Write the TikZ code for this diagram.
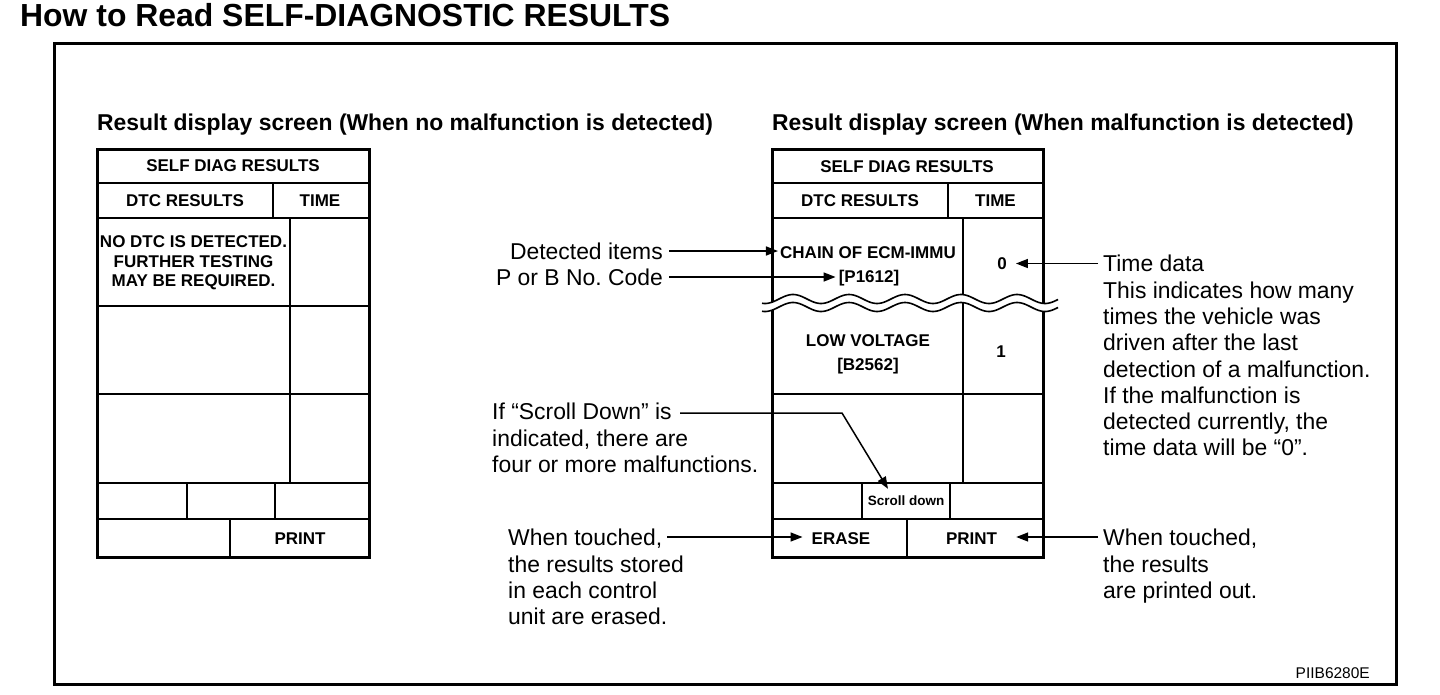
\documentclass[tikz,border=0pt]{standalone}
\usepackage{fontspec}
\setmainfont{Liberation Sans}
\usetikzlibrary{arrows.meta,positioning,calc}

\newcommand\titlefont{\fontsize{31.9}{36}\selectfont\bfseries}
\newcommand\headfont{\fontsize{22.9}{26}\selectfont\bfseries}
\newcommand\cellfont{\fontsize{17}{19.4}\selectfont\bfseries}
\newcommand\smallcellfont{\fontsize{13.5}{16}\selectfont\bfseries}
\newcommand\notefont{\fontsize{22.9}{26.3}\selectfont}
\newcommand\codefont{\fontsize{15.5}{18}\selectfont}

\tikzset{
    frameline/.style={
        line width=3pt,
    },
    tableborder/.style={
        line width=3pt,
    },
    gridline/.style={
        line width=2pt,
    },
    waveline/.style={
        line width=1.6pt,
    },
    celltext/.style={
        font=\cellfont,
        inner sep=0pt,
    },
    notetext/.style={
        font=\notefont,
        inner sep=0pt,
        align=left,
    },
    pointer/.style={
        -{Triangle[length=12pt,width=9pt]},
        line width=1.5pt,
    },
}

\begin{document}
\begin{tikzpicture}[x=1pt,y=-1pt]
    \useasboundingbox (0,0) rectangle (1440,694);

    \node[anchor=base west, font=\titlefont, inner sep=0pt] (title) at (20,26) {How to Read SELF-DIAGNOSTIC RESULTS};
    \draw[frameline] (54.5,43.5) rectangle (1396.5,684);

    \node[anchor=base west, font=\headfont, inner sep=0pt] (headok) at (97,130) {Result display screen (When no malfunction is detected)};
    \node[anchor=base west, font=\headfont, inner sep=0pt] (headfault) at (772,130) {Result display screen (When malfunction is detected)};

    % screen without malfunction
    \draw[gridline] (97,183) -- (369,183);
    \draw[gridline] (97,218) -- (369,218);
    \draw[gridline] (273,183) -- (273,218);
    \draw[gridline] (290,218) -- (290,483);
    \draw[gridline] (97,306) -- (369,306);
    \draw[gridline] (97,394) -- (369,394);
    \draw[gridline] (97,483) -- (369,483);
    \draw[gridline] (97,519) -- (369,519);
    \draw[gridline] (187,483) -- (187,519);
    \draw[gridline] (275,483) -- (275,519);
    \draw[gridline] (230,519) -- (230,557);
    \draw[tableborder] (97,149) rectangle (369,557);

    \node[celltext] (okhead) at (233,166) {SELF DIAG RESULTS};
    \node[celltext] (okdtc) at (185,201) {DTC RESULTS};
    \node[celltext] (oktime) at (320,201) {TIME};
    \node[celltext, align=center] (nodtc) at (193.5,263) {NO DTC IS DETECTED.\\FURTHER TESTING\\MAY BE REQUIRED.};
    \node[celltext] (okprint) at (300,538.5) {PRINT};

    % screen with malfunction
    \draw[gridline] (772,183) -- (1043,183);
    \draw[gridline] (772,218) -- (1043,218);
    \draw[gridline] (948,183) -- (948,218);
    \draw[gridline] (963,218) -- (963,483);
    \draw[gridline] (772,394) -- (1043,394);
    \draw[gridline] (772,483) -- (1043,483);
    \draw[gridline] (772,519) -- (1043,519);
    \draw[gridline] (862,483) -- (862,519);
    \draw[gridline] (950,483) -- (950,519);
    \draw[gridline] (907,519) -- (907,557);
    \draw[tableborder] (772,149) rectangle (1043,557);

    \fill[white] plot[domain=762:1058, samples=150] (\x,{299-4.5*cos((\x-793)/56*360)})
        -- plot[domain=1058:762, samples=150] (\x,{307-4.5*cos((\x-793)/56*360)}) -- cycle;
    \draw[waveline] plot[domain=762:1058, samples=150] (\x,{299-4.5*cos((\x-793)/56*360)});
    \draw[waveline] plot[domain=762:1058, samples=150] (\x,{307-4.5*cos((\x-793)/56*360)});

    \node[celltext] (faulthead) at (907,166.5) {SELF DIAG RESULTS};
    \node[celltext] (faultdtc) at (860,201) {DTC RESULTS};
    \node[celltext] (faulttime) at (995.5,201) {TIME};
    \node[celltext] (chain) at (868,253) {CHAIN OF ECM-IMMU};
    \node[celltext] (pcodeval) at (869,278) {[P1612]};
    \node[celltext] (zero) at (1002,264) {0};
    \node[celltext] (lowvolt) at (868,341) {LOW VOLTAGE};
    \node[celltext] (bcodeval) at (868,366.5) {[B2562]};
    \node[celltext] (one) at (1001,352) {1};
    \node[celltext, font=\smallcellfont] (scrolldown) at (906,501) {Scroll down};
    \node[celltext] (erase) at (841,538.5) {ERASE};
    \node[celltext] (faultprint) at (971.5,538.5) {PRINT};

    % notes
    \node[notetext, anchor=east] (detitems) at (663,251) {Detected items};
    \node[notetext, anchor=east] (pcodenote) at (663,277) {P or B No.\ Code};
    \node[notetext, anchor=north west] (scrollnote) at (492,403) {If “Scroll Down” is\\indicated, there are\\four or more malfunctions.};
    \node[notetext, anchor=north west] (erasenote) at (508,529) {When touched,\\the results stored\\in each control\\unit are erased.};
    \node[notetext, anchor=north west] (timenote) at (1103,255) {Time data\\This indicates how many\\times the vehicle was\\driven after the last\\detection of a malfunction.\\If the malfunction is\\detected currently, the\\time data will be “0”.};
    \node[notetext, anchor=north west] (printnote) at (1103,529) {When touched,\\the results\\are printed out.};

    \coordinate (scrollstart) at (680,413);
    \coordinate (erasestart) at (667,537);
    \coordinate (timestart) at (1098,263.5);
    \coordinate (printstart) at (1098,537);

    \draw[pointer, shorten >=2pt] ([xshift=6pt]detitems.east) -- (detitems.east -| chain.west);
    \draw[pointer, shorten >=3pt] ([xshift=6pt]pcodenote.east) -- (pcodenote.east -| pcodeval.west);
    \draw[pointer] (scrollstart) -- (842,413) -- ([xshift=-18pt,yshift=7pt]scrolldown.north);
    \draw[pointer, shorten >=9pt] (erasestart) -- (erasestart -| erase.west);
    \draw[pointer, shorten >=9pt] (timestart) -- (timestart -| zero.east);
    \draw[pointer, shorten >=19pt] (printstart) -- (printstart -| faultprint.east);

    \node[anchor=base east, font=\codefont, inner sep=0pt] (figcode) at (1370,678) {PIIB6280E};
\end{tikzpicture}
\end{document}
